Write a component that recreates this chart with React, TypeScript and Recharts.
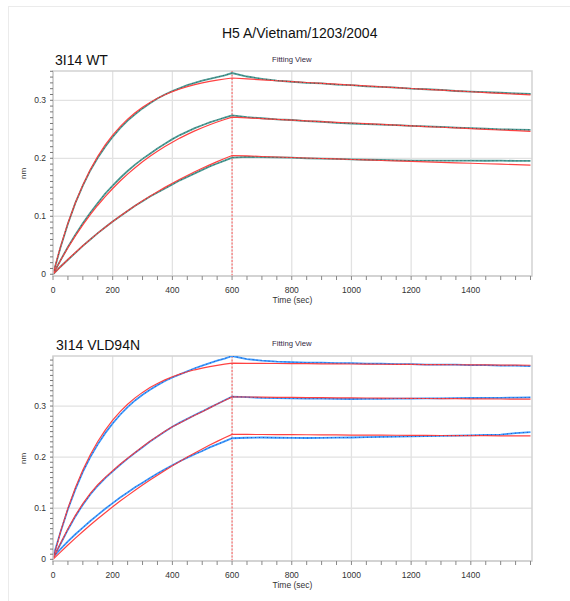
import React from "react";
import {
  LineChart,
  Line,
  XAxis,
  YAxis,
  CartesianGrid,
  ReferenceLine,
  ReferenceArea,
} from "recharts";

// Tiempo de muestreo (s): asociación cada 25 s, disociación cada 50 s
const TIME = [
  0, 25, 50, 75, 100, 125, 150, 175, 200, 225, 250, 275, 300, 325, 350, 375, 400, 425, 450, 475, 500,
  525, 550, 575, 600, 650, 700, 750, 800, 850, 900, 950, 1000, 1050, 1100, 1150, 1200, 1250, 1300,
  1350, 1400, 1450, 1500, 1550, 1600,
];

// 3I14 WT
const WT_OBS_HIGH = [
  0.0, 0.046, 0.087, 0.123, 0.153, 0.179, 0.201, 0.22, 0.237, 0.252, 0.265, 0.276, 0.286, 0.295,
  0.303, 0.31, 0.316, 0.321, 0.326, 0.33, 0.334, 0.337, 0.34, 0.343, 0.347, 0.341, 0.337, 0.334,
  0.332, 0.33, 0.329, 0.327, 0.326, 0.324, 0.323, 0.322, 0.32, 0.319, 0.318, 0.316, 0.315, 0.314,
  0.313, 0.312, 0.311,
];
const WT_FIT_HIGH = [
  0, 0.0473, 0.0881, 0.1234, 0.154, 0.1804, 0.2032, 0.223, 0.2399, 0.2547, 0.2674, 0.2785, 0.288,
  0.2963, 0.3034, 0.3096, 0.3149, 0.3195, 0.3235, 0.327, 0.3299, 0.3325, 0.3348, 0.3367, 0.3384,
  0.3368, 0.3353, 0.3337, 0.3322, 0.3307, 0.3292, 0.3277, 0.3262, 0.3247, 0.3232, 0.3218, 0.3203,
  0.3189, 0.3175, 0.3161, 0.3147, 0.3133, 0.3119, 0.3106, 0.3092,
];
const WT_OBS_MID = [
  0, 0.024, 0.047, 0.068, 0.088, 0.106, 0.123, 0.139, 0.153, 0.166, 0.178, 0.189, 0.199, 0.208,
  0.217, 0.225, 0.233, 0.24, 0.246, 0.252, 0.257, 0.262, 0.266, 0.27, 0.274, 0.271, 0.269, 0.267,
  0.266, 0.264, 0.263, 0.261, 0.26, 0.259, 0.258, 0.257, 0.256, 0.255, 0.254, 0.253, 0.252, 0.251,
  0.25, 0.2495, 0.249,
];
const WT_FIT_MID = [
  0, 0.0238, 0.0459, 0.0663, 0.0853, 0.1028, 0.119, 0.134, 0.1479, 0.1608, 0.1727, 0.1838, 0.194,
  0.2034, 0.2122, 0.2203, 0.2278, 0.2348, 0.2412, 0.2472, 0.2527, 0.2578, 0.2625, 0.2669, 0.271,
  0.2697, 0.2684, 0.2671, 0.2658, 0.2646, 0.2633, 0.262, 0.2608, 0.2596, 0.2583, 0.2571, 0.2559,
  0.2547, 0.2535, 0.2523, 0.2511, 0.25, 0.2488, 0.2477, 0.2465,
];
const WT_OBS_LOW = [
  0, 0.013, 0.025, 0.037, 0.049, 0.06, 0.071, 0.081, 0.091, 0.1, 0.109, 0.118, 0.126, 0.134, 0.141,
  0.148, 0.155, 0.162, 0.168, 0.174, 0.18, 0.186, 0.191, 0.196, 0.201, 0.2025, 0.202, 0.2015, 0.201,
  0.2, 0.1995, 0.1988, 0.198, 0.1975, 0.197, 0.1965, 0.196, 0.196, 0.1958, 0.1958, 0.196, 0.1957,
  0.1958, 0.1956, 0.1955,
];
const WT_FIT_LOW = [
  0, 0.013, 0.0255, 0.0376, 0.0491, 0.0602, 0.0709, 0.0811, 0.091, 0.1004, 0.1095, 0.1182, 0.1266,
  0.1346, 0.1424, 0.1498, 0.1569, 0.1638, 0.1704, 0.1767, 0.1828, 0.1886, 0.1942, 0.1996, 0.2048,
  0.204, 0.2031, 0.2022, 0.2013, 0.2005, 0.1996, 0.1988, 0.1979, 0.1971, 0.1962, 0.1954, 0.1946,
  0.1938, 0.193, 0.1922, 0.1914, 0.1906, 0.1898, 0.189, 0.1882,
];

// 3I14 VLD94N
const VLD_OBS_HIGH = [
  0.004, 0.053, 0.098, 0.137, 0.171, 0.2, 0.225, 0.247, 0.266, 0.283, 0.298, 0.311, 0.322, 0.332,
  0.341, 0.349, 0.356, 0.362, 0.368, 0.374, 0.379, 0.384, 0.389, 0.393, 0.398, 0.392, 0.389, 0.387,
  0.386, 0.385, 0.385, 0.384, 0.384, 0.383, 0.383, 0.382, 0.382, 0.381, 0.381, 0.381, 0.38, 0.38,
  0.379, 0.379, 0.378,
];
const VLD_FIT_HIGH = [
  0, 0.0536, 0.1, 0.1401, 0.1747, 0.2047, 0.2306, 0.253, 0.2723, 0.289, 0.3035, 0.316, 0.3268,
  0.3362, 0.3443, 0.3513, 0.3573, 0.3625, 0.3671, 0.371, 0.3744, 0.3773, 0.3798, 0.382, 0.3839,
  0.3837, 0.3835, 0.3833, 0.3831, 0.3829, 0.3827, 0.3825, 0.3823, 0.3821, 0.3819, 0.3817, 0.3815,
  0.3813, 0.3811, 0.3809, 0.3807, 0.3805, 0.3803, 0.3801, 0.3799,
];
const VLD_OBS_MID = [
  0.003, 0.03, 0.058, 0.084, 0.107, 0.127, 0.144, 0.159, 0.172, 0.185, 0.197, 0.2085, 0.2195,
  0.2305, 0.2405, 0.25, 0.2595, 0.2675, 0.275, 0.2825, 0.2895, 0.297, 0.304, 0.3115, 0.3185, 0.3175,
  0.316, 0.3155, 0.315, 0.3145, 0.3145, 0.314, 0.3138, 0.314, 0.3142, 0.3145, 0.3147, 0.315, 0.3152,
  0.3155, 0.3158, 0.316, 0.3162, 0.3165, 0.317,
];
const VLD_FIT_MID = [
  0, 0.031, 0.06, 0.086, 0.109, 0.129, 0.146, 0.1605, 0.1735, 0.186, 0.198, 0.209, 0.2205, 0.231,
  0.241, 0.2505, 0.2595, 0.267, 0.2745, 0.282, 0.289, 0.2965, 0.304, 0.311, 0.318, 0.3177, 0.3175,
  0.3172, 0.317, 0.3167, 0.3165, 0.3162, 0.316, 0.3158, 0.3155, 0.3153, 0.315, 0.3148, 0.3146,
  0.3144, 0.3142, 0.314, 0.3138, 0.3136, 0.3134,
];
const VLD_OBS_LOW = [
  0.004, 0.02, 0.035, 0.049, 0.062, 0.075, 0.087, 0.099, 0.11, 0.121, 0.131, 0.141, 0.15, 0.159,
  0.168, 0.176, 0.184, 0.192, 0.199, 0.206, 0.212, 0.219, 0.225, 0.231, 0.237, 0.238, 0.2385, 0.238,
  0.2378, 0.2375, 0.2378, 0.2382, 0.2385, 0.239, 0.2395, 0.24, 0.2405, 0.241, 0.2415, 0.242, 0.2428,
  0.2435, 0.244, 0.247, 0.249,
];
const VLD_FIT_LOW = [
  0, 0.0142, 0.028, 0.0414, 0.0544, 0.0671, 0.0794, 0.0913, 0.1028, 0.114, 0.1247, 0.1352, 0.1453,
  0.1552, 0.1647, 0.174, 0.183, 0.1916, 0.2001, 0.2082, 0.216, 0.2236, 0.2309, 0.2379, 0.2446,
  0.2444, 0.2443, 0.2441, 0.244, 0.2438, 0.2436, 0.2435, 0.2433, 0.2432, 0.243, 0.2429, 0.2427,
  0.2426, 0.2424, 0.2423, 0.2421, 0.242, 0.2418, 0.2417, 0.2415,
];

// Ejes
const X_MAX = 1605;
const X_TICKS = [
  0, 50, 100, 150, 200, 250, 300, 350, 400, 450, 500, 550, 600, 650, 700, 750, 800, 850, 900, 950,
  1000, 1050, 1100, 1150, 1200, 1250, 1300, 1350, 1400, 1450, 1500, 1550, 1600,
];
const X_LABELED = [0, 200, 400, 600, 800, 1000, 1200, 1400];
const X_GRID = [200, 400, 600, 800, 1000, 1200, 1400];
const Y_LABELED = [0, 0.1, 0.2, 0.3];
const Y_GRID = [0.1, 0.2, 0.3];
// marcas cada 0.01 (las de 0.1 llevan etiqueta)
const Y_TICKS_WT = [
  0, 0.01, 0.02, 0.03, 0.04, 0.05, 0.06, 0.07, 0.08, 0.09, 0.1, 0.11, 0.12, 0.13, 0.14, 0.15, 0.16,
  0.17, 0.18, 0.19, 0.2, 0.21, 0.22, 0.23, 0.24, 0.25, 0.26, 0.27, 0.28, 0.29, 0.3, 0.31, 0.32, 0.33,
  0.34, 0.35,
];
const Y_TICKS_VLD = [...Y_TICKS_WT, 0.36, 0.37, 0.38, 0.39];

const FONT = "'Liberation Sans', Arial, sans-serif";
const FIT_RED = "#ff4242";

function buildRows(obs: number[][], fit: number[][]) {
  return TIME.map((t, i) => ({
    t,
    o1: obs[0][i],
    o2: obs[1][i],
    o3: obs[2][i],
    f1: fit[0][i],
    f2: fit[1][i],
    f3: fit[2][i],
  }));
}

type PanelProps = {
  rows: ReturnType<typeof buildRows>;
  yDomain: [number, number];
  yTicks: number[];
  obsColor: string;
  speckColor: string;
};

function Panel({ rows, yDomain, yTicks, obsColor, speckColor }: PanelProps) {
  const tickStyle = { fontSize: 8.5, fill: "#333", fontFamily: FONT };
  return (
    <LineChart
      width={570}
      height={246}
      data={rows}
      margin={{ top: 11, right: 38, bottom: 0, left: 0 }}
    >
      <CartesianGrid
        stroke="#e2e2e2"
        strokeWidth={1.3}
        verticalValues={X_GRID}
        horizontalValues={Y_GRID}
      />
      <XAxis
        dataKey="t"
        type="number"
        domain={[0, X_MAX]}
        allowDataOverflow
        ticks={X_TICKS}
        interval={0}
        tickFormatter={(v) => (X_LABELED.includes(Number(v)) ? String(v) : "")}
        tick={tickStyle}
        tickSize={4}
        tickMargin={7}
        tickLine={{ stroke: "#888" }}
        axisLine={{ stroke: "#cfcfcf", strokeWidth: 1.5 }}
        height={30}
        label={{
          value: "Time (sec)",
          position: "insideBottom",
          offset: 3,
          style: { fontSize: 8.5, fill: "#333", fontFamily: FONT },
        }}
      />
      <YAxis
        type="number"
        domain={yDomain}
        allowDataOverflow
        ticks={yTicks}
        interval={0}
        tickFormatter={(v) => (Y_LABELED.includes(Number(v)) ? String(v) : "")}
        tick={tickStyle}
        tickSize={3}
        tickMargin={4}
        tickLine={{ stroke: "#777" }}
        axisLine={{ stroke: "#cfcfcf", strokeWidth: 1.5 }}
        width={53}
        label={{
          value: "nm",
          angle: -90,
          position: "center",
          dx: -3,
          style: { fontSize: 8, fill: "#333", fontFamily: FONT },
        }}
      />
      <ReferenceArea
        x1={0}
        x2={X_MAX}
        y1={yDomain[0]}
        y2={yDomain[1]}
        fill="none"
        stroke="#d2d2d2"
        strokeWidth={1.5}
      />
      <ReferenceLine x={600} stroke="#ff5a5a" strokeDasharray="2 1.5" strokeWidth={1} />
      {["o1", "o2", "o3"].map((k) => (
        <Line
          key={k}
          dataKey={k}
          type="linear"
          stroke={obsColor}
          strokeWidth={1.8}
          dot={false}
          isAnimationActive={false}
        />
      ))}
      {["f1", "f2", "f3"].map((k) => (
        <Line
          key={k}
          dataKey={k}
          type="linear"
          stroke={FIT_RED}
          strokeWidth={1.2}
          dot={false}
          isAnimationActive={false}
        />
      ))}
      {["o1", "o2", "o3"].map((k) => (
        <Line
          key={`s${k}`}
          dataKey={k}
          type="linear"
          stroke={speckColor}
          strokeWidth={0.7}
          strokeDasharray="1 3"
          dot={false}
          isAnimationActive={false}
        />
      ))}
    </LineChart>
  );
}

const wtRows = buildRows([WT_OBS_HIGH, WT_OBS_MID, WT_OBS_LOW], [WT_FIT_HIGH, WT_FIT_MID, WT_FIT_LOW]);
const vldRows = buildRows(
  [VLD_OBS_HIGH, VLD_OBS_MID, VLD_OBS_LOW],
  [VLD_FIT_HIGH, VLD_FIT_MID, VLD_FIT_LOW]
);

const abs = (left: number, top: number, extra: React.CSSProperties = {}): React.CSSProperties => ({
  position: "absolute",
  left,
  top,
  lineHeight: 1,
  fontFamily: FONT,
  whiteSpace: "nowrap",
  ...extra,
});

export default function App() {
  return (
    <div
      style={{
        position: "absolute",
        left: 0,
        top: 0,
        width: 570,
        height: 601,
        background: "#fff",
        overflow: "hidden",
      }}
    >
      <div
        style={{
          position: "absolute",
          left: 8,
          top: 6,
          right: 0,
          bottom: 0,
          borderTop: "1.5px solid #ebebeb",
          borderLeft: "1.5px solid #ebebeb",
        }}
      />
      <div style={abs(222, 26, { fontSize: 14, color: "#111" })}>H5 A/Vietnam/1203/2004</div>

      <div style={abs(0, 60)}>
        <Panel
          rows={wtRows}
          yDomain={[-0.003, 0.3505]}
          yTicks={Y_TICKS_WT}
          obsColor="#4f9d97"
          speckColor="#1f4f4c"
        />
      </div>
      <div style={abs(55, 53, { fontSize: 14, color: "#111" })}>3I14 WT</div>
      <div style={abs(272, 56, { fontSize: 7.7, color: "#33283f" })}>Fitting View</div>

      <div style={abs(0, 345)}>
        <Panel
          rows={vldRows}
          yDomain={[-0.0033, 0.398]}
          yTicks={Y_TICKS_VLD}
          obsColor="#3d9bff"
          speckColor="#1c3a9a"
        />
      </div>
      <div style={abs(56, 338, { fontSize: 14, color: "#111" })}>3I14 VLD94N</div>
      <div style={abs(272, 340, { fontSize: 7.7, color: "#33283f" })}>Fitting View</div>
    </div>
  );
}
